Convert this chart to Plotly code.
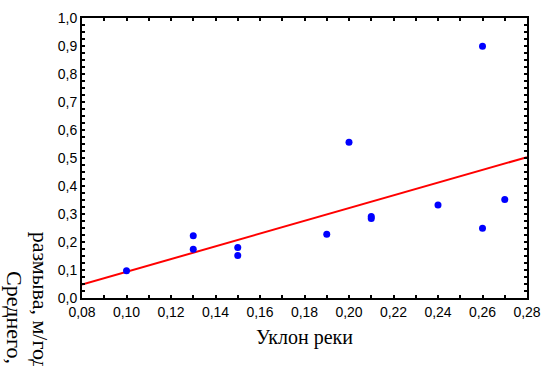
import plotly.graph_objects as go

slope_x = [0.10, 0.13, 0.13, 0.15, 0.15, 0.19, 0.20, 0.21, 0.21, 0.24, 0.26, 0.26, 0.27]
erosion_y = [0.097, 0.222, 0.174, 0.180, 0.152, 0.228, 0.556, 0.291, 0.284, 0.332, 0.899, 0.249, 0.352]

fit_x = [0.08, 0.28]
fit_y = [0.048, 0.503]

x_tickvals = [0.08, 0.10, 0.12, 0.14, 0.16, 0.18, 0.20, 0.22, 0.24, 0.26, 0.28]
x_ticktext = ["0,08", "0,10", "0,12", "0,14", "0,16", "0,18", "0,20", "0,22", "0,24", "0,26", "0,28"]
y_tickvals = [0.0, 0.1, 0.2, 0.3, 0.4, 0.5, 0.6, 0.7, 0.8, 0.9, 1.0]
y_ticktext = ["0,0", "0,1", "0,2", "0,3", "0,4", "0,5", "0,6", "0,7", "0,8", "0,9", "1,0"]

x_title = "Уклон реки"
y_title_1 = "размыва, м/год"
y_title_2 = "Среднего,"

fig = go.Figure()
fig.add_trace(go.Scatter(x=fit_x, y=fit_y, mode="lines",
                         line=dict(color="#ff0000", width=2), showlegend=False,
                         hoverinfo="skip"))
fig.add_trace(go.Scatter(x=slope_x, y=erosion_y, mode="markers",
                         marker=dict(color="#0000ff", size=7, line=dict(width=0)),
                         showlegend=False))

tickfont = dict(family="Liberation Sans, Arial, sans-serif", size=14, color="#000000")
serif = "Liberation Serif, Times New Roman, serif"

fig.update_layout(
    width=551, height=366,
    margin=dict(l=82, r=16, t=10, b=68),
    paper_bgcolor="white", plot_bgcolor="white",
    xaxis=dict(range=[0.08, 0.28], tickvals=x_tickvals, ticktext=x_ticktext,
               showgrid=False, zeroline=False, showline=True, linecolor="black",
               linewidth=2, mirror="ticks", ticks="inside", ticklen=3,
               tickcolor="black", tickwidth=1.5, tickfont=tickfont,
               minor=dict(dtick=0.01, tick0=0.08, ticks="inside", ticklen=3,
                          tickcolor="black", tickwidth=1.5, showgrid=False),
               title=dict(text=x_title, font=dict(family=serif, size=20, color="black"),
                          standoff=11)),
    yaxis=dict(range=[0, 1.0], tickvals=y_tickvals, ticktext=y_ticktext,
               showgrid=False, zeroline=False, showline=True, linecolor="black",
               linewidth=2, mirror="ticks", ticks="inside", ticklen=3,
               tickcolor="black", tickwidth=1.5, tickfont=tickfont,
               minor=dict(dtick=0.025, tick0=0, ticks="inside", ticklen=3,
                          tickcolor="black", tickwidth=1.5, showgrid=False)),
    annotations=[
        dict(text=y_title_1, textangle=90, xref="paper", yref="paper",
             x=(40 - 82) / 453, y=(298 - 228) / 288, xanchor="center", yanchor="top",
             showarrow=False,
             font=dict(family=serif, size=22, color="black")),
        dict(text=y_title_2, textangle=90, xref="paper", yref="paper",
             x=(13 - 82) / 453, y=(298 - 268) / 288, xanchor="center", yanchor="top",
             showarrow=False,
             font=dict(family=serif, size=22, color="black")),
    ],
)

fig.write_html("out.html", config={"displayModeBar": False},
               post_script="document.body.style.margin='0';document.body.style.overflow='hidden';")
